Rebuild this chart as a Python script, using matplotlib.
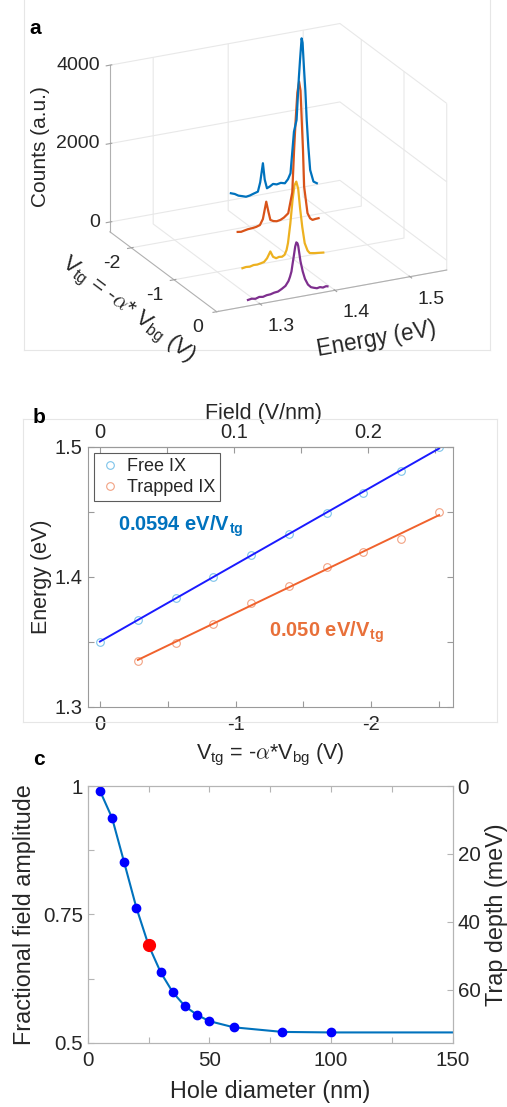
import numpy as np
import matplotlib
matplotlib.use("Agg")
import matplotlib.pyplot as plt
from matplotlib.lines import Line2D
from mpl_toolkits.mplot3d import proj3d

plt.rcParams['font.family'] = ['Liberation Sans', 'DejaVu Sans']
plt.rcParams['mathtext.fontset'] = 'cm'
plt.rcParams['axes.unicode_minus'] = False

# --- panel a: spectra (energy in eV, counts) at four gate voltages ---
spec_vtg = [0.0, -0.8, -1.6, -2.4]
spec_colors = ['#7E2F8E', '#EDB120', '#D95319', '#0072BD']

e_purple = [1.284, 1.289, 1.294, 1.299, 1.304, 1.309, 1.314, 1.319, 1.324, 1.329, 1.334,
            1.338, 1.340, 1.342, 1.3435, 1.345, 1.347, 1.3485, 1.350, 1.351, 1.3525, 1.354,
            1.357, 1.360, 1.364, 1.368, 1.372, 1.376, 1.380, 1.384, 1.388, 1.390]
c_purple = [-95, -80, -100, -70, -85, -60, -55, -30, -20, 30, 90,
            200, 300, 430, 620, 800, 1050, 1150, 1120, 1050, 850, 650,
            380, 180, 20, -60, -90, -115, -100, -125, -105, -115]

e_yellow = [1.3222, 1.327, 1.332, 1.337, 1.342, 1.3469, 1.351, 1.355, 1.3594, 1.363, 1.3671,
            1.371, 1.375, 1.3783, 1.381, 1.3829, 1.386, 1.389, 1.3915, 1.394, 1.3965, 1.399,
            1.402, 1.4052, 1.409, 1.412, 1.4187, 1.424, 1.430]
c_yellow = [-70, -55, -65, -40, -45, -28, -10, 70, 228, 80, 30,
            50, 40, 76, 190, 360, 840, 1440, 1800, 1890, 1700, 1200,
            700, 283, 80, 5, -18, -30, -44]

e_orange = [1.3614, 1.366, 1.371, 1.375, 1.3803, 1.386, 1.391, 1.395, 1.3995, 1.4025, 1.405,
            1.409, 1.4135, 1.4184, 1.423, 1.4288, 1.4342, 1.4365, 1.4387, 1.441, 1.4433,
            1.4452, 1.4468, 1.4485, 1.450, 1.4545, 1.458, 1.4612, 1.465, 1.4693]
c_orange = [68, 55, 75, 90, 96, 110, 140, 280, 707, 430, 223,
            180, 160, 177, 220, 310, 825, 1850, 2656, 3350, 3617,
            3380, 2627, 1850, 917, 224, 80, 29, 40, 45]

e_blue = [1.3979, 1.403, 1.408, 1.413, 1.4181, 1.423, 1.428, 1.4339, 1.437, 1.4406, 1.443,
          1.446, 1.450, 1.4541, 1.459, 1.4645, 1.4699, 1.474, 1.4774, 1.482, 1.4855,
          1.4885, 1.4901, 1.4922, 1.4935, 1.4955, 1.4972, 1.499, 1.5012, 1.5036, 1.508, 1.5125]
c_blue = [276, 240, 180, 150, 117, 130, 160, 192, 420, 894, 470,
          237, 270, 319, 290, 310, 281, 370, 510, 1556, 1842,
          2900, 3358, 3900, 3780, 3084, 2550, 1796, 1100, 504, 192, 135]

spec_E = [e_purple, e_yellow, e_orange, e_blue]
spec_C = [c_purple, c_yellow, c_orange, c_blue]

a_vtg_ticks = [-2, -1, 0]
a_vtg_labels = ['-2', '-1', '0']
a_e_ticks = [1.3, 1.4, 1.5]
a_e_labels = ['1.3', '1.4', '1.5']
a_z_ticks = [0, 2000, 4000]
a_z_labels = ['0', '2000', '4000']

# --- panel b: peak energies vs top-gate voltage ---
vtg_free = [0.0, -0.28, -0.56, -0.83, -1.11, -1.39, -1.67, -1.94, -2.22, -2.50]
e_free = [1.350, 1.3667, 1.3833, 1.3994, 1.4167, 1.4332, 1.4491, 1.4647, 1.481, 1.4997]
vtg_trap = [-0.28, -0.56, -0.83, -1.11, -1.39, -1.67, -1.94, -2.22, -2.50]
e_trap = [1.3354, 1.349, 1.3636, 1.3797, 1.3925, 1.4071, 1.4188, 1.4291, 1.4496]
field_per_volt = 0.1012  # V/nm per V of Vtg

# --- panel c: field amplitude vs hole diameter ---
hole_d = [5, 10, 15, 20, 25, 30, 35, 40, 45, 50, 60, 80, 100]
amp = [0.991, 0.938, 0.851, 0.763, 0.690, 0.637, 0.598, 0.571, 0.554, 0.542, 0.530, 0.521, 0.520]
curve_d = hole_d + [150]
curve_amp = amp + [0.520]
highlight_idx = 4
trap_depth_max = 75.6

W, H = 507, 1107
fig = plt.figure(figsize=(W / 100, H / 100), dpi=100)
txt = '#262626'

# faint frames of the pasted panels
for (x0, y0, x1, y1) in [(24.3, 0, 24.3, 350), (490, 0, 490, 350), (24.3, 350, 490, 350)]:
    fig.add_artist(Line2D([x0 / W, x1 / W], [1 - y0 / H, 1 - y1 / H], color='#e6e6e6', lw=0.8))
for (x0, y0, x1, y1) in [(23.3, 419, 23.3, 721.7), (497.3, 419, 497.3, 721.7),
                         (23.3, 419, 497.3, 419), (23.3, 721.7, 497.3, 721.7)]:
    fig.add_artist(Line2D([x0 / W, x1 / W], [1 - y0 / H, 1 - y1 / H], color='#e6e6e6', lw=0.8))

# ---------------- panel a ----------------
ax3 = fig.add_axes([0.05, 0.68, 0.9, 0.3], projection='3d', proj_type='ortho')
ax3.patch.set_alpha(0)
ax3.view_init(elev=21.6, azim=-26.2)
ax3.set_box_aspect((241.8, 256.3, 179.2))
for v, E, C, col in zip(spec_vtg, spec_E, spec_C, spec_colors):
    ax3.plot(np.full(len(E), v), E, C, color=col, lw=1.6)
ax3.set_xlim(-2.5, 0)
ax3.set_ylim(1.2423, 1.549)
ax3.set_zlim(-250, 4000)
ax3.set_xticks(a_vtg_ticks)
ax3.set_yticks(a_e_ticks)
ax3.set_zticks(a_z_ticks)
ax3.zaxis.set_ticks_position('lower')
for axis in (ax3.xaxis, ax3.yaxis, ax3.zaxis):
    axis.set_tick_params(color='#a0a0a0', labelleft=False)
    axis.set_pane_color((1, 1, 1, 0))
    axis.pane.set_edgecolor('#dedede')
    axis.line.set_color('#b0b0b0')
    axis.line.set_linewidth(0.8)
    axis._axinfo['grid'].update({'color': '#e8e8e8', 'linewidth': 0.8})

fig.canvas.draw()


def to_px(x, y, z):
    xs, ys, _ = proj3d.proj_transform(x, y, z, ax3.get_proj())
    return np.array(ax3.transData.transform((xs, ys)))


# scale and move the 3D box so its front floor edge sits where the reference has it
xlo, xhi = ax3.get_xlim()
ylo, yhi = ax3.get_ylim()
zlo, zhi = ax3.get_zlim()
f_px = to_px(xhi, ylo, zlo)
r_px = to_px(xhi, yhi, zlo)
f_t = np.array([216.7, H - 311.7])
r_t = np.array([446.7, H - 270.0])
s = np.linalg.norm(r_t - f_t) / np.linalg.norm(r_px - f_px)
bb = ax3.get_position()
p0 = np.array([bb.x0 * W, bb.y0 * H])
p0_new = f_t - s * (f_px - p0)
ax3.set_position([p0_new[0] / W, p0_new[1] / H, bb.width * s, bb.height * s])
fig.canvas.draw()


def tick_label(x, y, z, lab, dx, dy, ha):
    p = to_px(x, y, z)
    fig.text((p[0] + dx) / W, (p[1] + dy) / H, lab, fontsize=14, color=txt,
             ha=ha, va='baseline')


for v, lab in zip(a_vtg_ticks, a_vtg_labels):
    tick_label(v, ylo, zlo, lab, -19, -20, 'center')
for e, lab in zip(a_e_ticks, a_e_labels):
    tick_label(xhi, e, zlo, lab, 21, -27, 'center')
for z, lab in zip(a_z_ticks, a_z_labels):
    tick_label(xlo, ylo, z, lab, -10, -4.5, 'right')

fig.text(29 / W, 1 - 34 / H, 'a', fontsize=15, fontweight='bold', va='baseline')
fig.text(40 / W, 1 - 147 / H, 'Counts (a.u.)', fontsize=15, color=txt,
         rotation=90, ha='center', va='center')
fig.text(127 / W, 1 - 310 / H, r'$\mathregular{V_{tg}}$ = -$\alpha$* $\mathregular{V_{bg}}$ (V)',
         fontsize=16.2, color=txt, rotation=-36.9, ha='center', va='center', rotation_mode='anchor')
fig.text(377 / W, 1 - 339 / H, 'Energy (eV)', fontsize=16.3, color=txt,
         rotation=10, ha='center', va='center', rotation_mode='anchor')

# ---------------- panel b ----------------
spine_b = '#9a9a9a'
axb = fig.add_axes([87.7 / W, 1 - 706.7 / H, 365 / W, 260 / H])
axb.plot(vtg_free, e_free, 'o', mfc='none', mec='#7dc3ea', ms=5.5, mew=0.8, label='Free IX')
axb.plot(vtg_trap, e_trap, 'o', mfc='none', mec='#f2a283', ms=5.5, mew=0.8, label='Trapped IX')
pf = np.polyfit(vtg_free, e_free, 1)
pt = np.polyfit(vtg_trap, e_trap, 1)
xf = np.array([vtg_free[0], vtg_free[-1]])
xt = np.array([vtg_trap[0], vtg_trap[-1]])
axb.plot(xf, np.polyval(pf, xf), color='#1a1aff', lw=1.4)
axb.plot(xt, np.polyval(pt, xt), color='#f0622d', lw=1.4)
axb.set_xlim(0.09, -2.6)
axb.set_ylim(1.3, 1.5)
axb.set_xticks([0, -1, -2])
axb.set_xticklabels(['0', '-1', '-2'])
axb.set_xticks([-0.5, -1.5, -2.5], minor=True)
axb.set_yticks([1.3, 1.4, 1.5])
axb.set_yticklabels(['1.3', '1.4', '1.5'])
axb.set_yticks([1.35, 1.45], minor=True)
axb.tick_params(which='both', direction='in', length=4, width=0.8, color=spine_b,
                labelcolor=txt, labelsize=14.5, right=True, top=False)
axb.tick_params(axis='x', pad=6)
for sp in axb.spines.values():
    sp.set_color(spine_b)
    sp.set_linewidth(0.8)
axb.set_ylabel('Energy (eV)', fontsize=15.5, color=txt, labelpad=2)
axb.set_xlabel(r'$\mathregular{V_{tg}}$ = -$\alpha$*$\mathregular{V_{bg}}$ (V)',
               fontsize=15.5, color=txt, labelpad=6)
axb.text(-0.13, 1.4354, r'0.0594 eV/V$_\mathregular{tg}$', color='#0072BD',
         fontsize=14.5, fontweight='bold', va='baseline')
axb.text(-1.247, 1.3538, r'0.050 eV/V$_\mathregular{tg}$', color='#E8703A',
         fontsize=14.5, fontweight='bold', va='baseline')
leg = axb.legend(loc='upper left', fontsize=13, frameon=True, fancybox=False,
                 handletextpad=0.3, handlelength=1.2, borderpad=0.3, labelspacing=0.2,
                 borderaxespad=0.35)
leg.get_frame().set_edgecolor('#333333')
leg.get_frame().set_linewidth(0.8)
for t in leg.get_texts():
    t.set_color(txt)

secax = axb.secondary_xaxis('top', functions=(lambda v: -v * field_per_volt,
                                              lambda f: -f / field_per_volt))
secax.set_xticks([0, 0.1, 0.2])
secax.set_xticklabels(['0', '0.1', '0.2'])
secax.set_xticks([0.05, 0.15, 0.25], minor=True)
secax.tick_params(which='both', direction='in', length=4, width=0.8, color=spine_b,
                  labelcolor=txt, labelsize=14.5)
secax.spines['top'].set_color(spine_b)
secax.set_xlabel('Field (V/nm)', fontsize=15.5, color=txt, labelpad=3)
secax.xaxis.label.set_x(0.483)
fig.text(33 / W, 1 - 422.7 / H, 'b', fontsize=15, fontweight='bold', va='baseline')

# ---------------- panel c ----------------
spine_c = '#b5b5b5'
axc = fig.add_axes([87.7 / W, 1 - 1042.7 / H, 365 / W, 256.7 / H])
axc.plot(curve_d, curve_amp, color='#0072BD', lw=1.5, zorder=2)
axc.plot(hole_d, amp, 'o', color='#0000ff', ms=6, zorder=3)
axc.plot(hole_d[highlight_idx], amp[highlight_idx], 'o', color='#ff0000', ms=8.5, zorder=4)
axc.set_xlim(0, 150)
axc.set_ylim(0.5, 1)
axc.set_xticks([0, 50, 100, 150])
axc.set_xticks([25, 75, 125], minor=True)
axc.set_yticks([0.5, 0.75, 1])
axc.set_yticklabels(['0.5', '0.75', '1'])
axc.set_yticks([0.625, 0.875], minor=True)
axc.tick_params(which='both', direction='in', length=4, width=0.8, color=spine_c,
                labelcolor=txt, labelsize=14.8, top=True)
axc.tick_params(axis='x', pad=6)
for sp in axc.spines.values():
    sp.set_color(spine_c)
    sp.set_linewidth(0.8)
axc.set_xlabel('Hole diameter (nm)', fontsize=16.8, color=txt, labelpad=7)
axc.set_ylabel('Fractional field amplitude', fontsize=16.8, color=txt, labelpad=5)

axc2 = axc.twinx()
axc2.set_ylim(trap_depth_max, 0)
axc2.set_yticks([0, 20, 40, 60])
axc2.tick_params(direction='in', length=4, width=0.8, color=spine_c,
                 labelcolor=txt, labelsize=14.8)
for sp in axc2.spines.values():
    sp.set_color(spine_c)
    sp.set_linewidth(0.8)
axc2.set_ylabel('Trap depth (meV)', fontsize=16.8, color=txt, labelpad=3)
fig.text(33 / W, 1 - 765 / H, 'c', fontsize=15, fontweight='bold', va='baseline')

fig.savefig('out.png', dpi=100)
